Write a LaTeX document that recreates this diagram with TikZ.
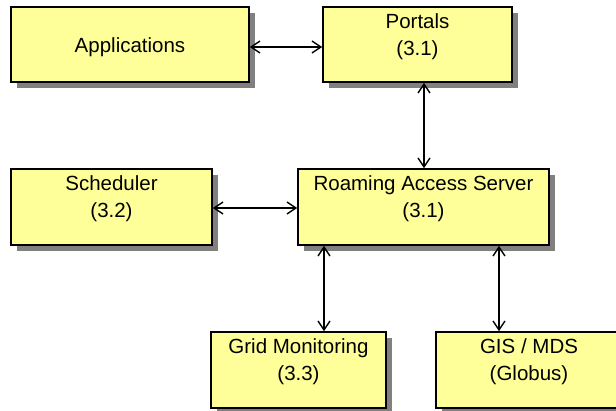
\documentclass[tikz,border=0pt]{standalone}
\usepackage{fontspec}
\setmainfont{Liberation Sans}
\usetikzlibrary{arrows.meta,shadows}
\definecolor{boxyellow}{HTML}{FFFF99}
\definecolor{shadowgray}{HTML}{808080}
\newcommand{\twolines}[2]{\begin{tabular}[t]{@{}c@{}}#1\\#2\end{tabular}}
\begin{document}
\begin{tikzpicture}[x=1pt,y=1pt,
  box/.style={draw=black, line width=1.6pt, fill=boxyellow,
    inner xsep=0pt, inner ysep=0pt, text height=22pt, text depth=53pt,
    drop shadow={shadow xshift=6pt, shadow yshift=-6pt, draw=none, fill=shadowgray, opacity=1},
    font=\fontsize{20.5}{26.5}\selectfont},
  link/.style={>={Straight Barb[length=9pt,width=12pt]}, <->, line width=1.4pt}]
\clip (0,0) rectangle (616,411);
\useasboundingbox (0,0) rectangle (616,411);
% top row
\node[box, minimum width=238pt, text height=46pt, text depth=29pt] (app) at (130,366.5) {Applications};
\node[box, minimum width=189pt] (portals) at (417.5,366.5) {\twolines{Portals}{(3.1)}};
% middle row
\node[box, minimum width=201pt, text depth=54pt] (sched) at (111.5,204) {\twolines{Scheduler}{(3.2)}};
\node[box, minimum width=251pt, text depth=54pt] (ras) at (423.5,204) {\twolines{Roaming Access Server}{(3.1)}};
% bottom row
\node[box, minimum width=175pt, text depth=54pt] (grid) at (298.5,41) {\twolines{Grid Monitoring}{(3.3)}};
\node[box, minimum width=186pt, text depth=54pt] (gis) at (529,41) {\twolines{GIS / MDS}{(Globus)}};
% connectors
\coordinate (px) at ([xshift=0.5pt]ras.north);
\coordinate (gx) at ([xshift=25.5pt]grid.north);
\coordinate (sx) at ([xshift=-30pt]gis.north);
\draw[link] ([yshift=-2.5pt]app.east) -- ([yshift=-2.5pt]portals.west);
\draw[link] (portals.south -| px) -- (px);
\draw[link] ([yshift=-1pt]sched.east) -- ([yshift=-1pt]ras.west);
\draw[link] (ras.south -| gx) -- (gx);
\draw[link] (ras.south -| sx) -- (sx);
\end{tikzpicture}
\end{document}
